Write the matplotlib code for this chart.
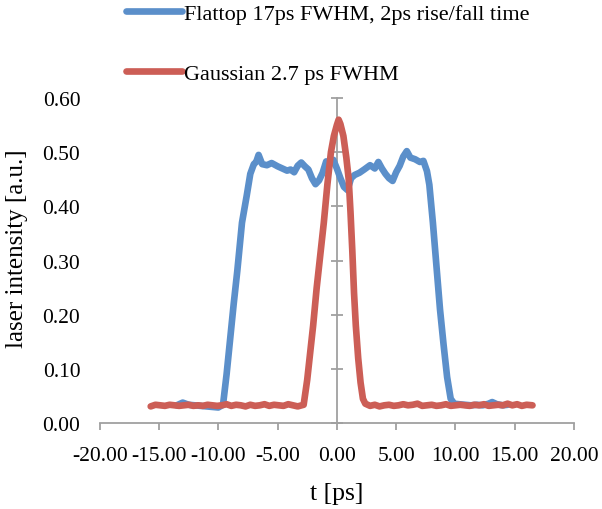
import matplotlib
matplotlib.use("Agg")
import matplotlib.pyplot as plt

# ---- data ----
flat_t = [-13.5, -13.0, -12.5, -12.0, -11.5, -11.0, -10.5, -10.0, -9.6, -9.3, -9.0, -8.7,
          -8.4, -8.0, -7.6, -7.3, -7.0, -6.8, -6.6, -6.3, -5.9, -5.5, -5.0, -4.6, -4.2,
          -3.9, -3.6, -3.3, -3.0, -2.7, -2.4, -2.1, -1.8, -1.5, -1.2, -0.9, -0.6, -0.3,
          0.0, 0.3, 0.6, 0.9, 1.2, 1.5, 1.9, 2.3, 2.8, 3.2, 3.5, 3.8, 4.1, 4.4, 4.7, 5.0,
          5.3, 5.6, 5.9, 6.2, 6.6, 7.0, 7.3, 7.6, 7.8, 8.1, 8.4, 8.7, 9.0, 9.3, 9.6, 9.9,
          10.3, 10.8, 11.3, 11.8, 12.3, 12.8, 13.1, 13.5, 14.0, 14.4]
flat_v = [0.033, 0.038, 0.034, 0.033, 0.032, 0.031, 0.030, 0.029, 0.034, 0.090, 0.155, 0.220,
          0.280, 0.370, 0.420, 0.460, 0.478, 0.482, 0.495, 0.478, 0.476, 0.480, 0.474, 0.470, 0.466,
          0.468, 0.463, 0.475, 0.481, 0.474, 0.468, 0.452, 0.441, 0.448, 0.462, 0.483, 0.478, 0.486,
          0.470, 0.452, 0.436, 0.430, 0.452, 0.458, 0.462, 0.468, 0.476, 0.470, 0.482, 0.470, 0.460,
          0.452, 0.447, 0.463, 0.475, 0.492, 0.502, 0.490, 0.487, 0.482, 0.484, 0.465, 0.440, 0.370,
          0.290, 0.210, 0.145, 0.085, 0.045, 0.036, 0.035, 0.034, 0.033, 0.034, 0.033, 0.036, 0.039,
          0.035, 0.033, 0.034]

gauss_t = [-15.7, -15.3, -14.9, -14.5, -14.1, -13.7, -13.3, -12.9, -12.5, -12.1, -11.7, -11.3,
           -10.9, -10.5, -10.1, -9.7, -9.3, -8.9, -8.5, -8.1, -7.7, -7.3, -6.9, -6.5, -6.1,
           -5.7, -5.3, -4.9, -4.5, -4.1, -3.7, -3.3, -2.8, -2.5, -2.25, -2.0, -1.7, -1.4, -1.1,
           -0.8, -0.5, -0.25, 0.0, 0.15, 0.3, 0.55, 0.8, 1.0, 1.15, 1.3, 1.45, 1.6, 1.8, 2.0,
           2.2, 2.4, 2.8, 3.2, 3.6, 4.0, 4.4, 4.8, 5.2, 5.6, 6.0, 6.4, 6.8, 7.2, 7.6, 8.0, 8.4,
           8.8, 9.2, 9.6, 10.0, 10.4, 10.8, 11.2, 11.6, 12.0, 12.4, 12.8, 13.2, 13.6, 14.0, 14.4,
           14.8, 15.2, 15.6, 16.0, 16.5]
gauss_v = [0.031, 0.034, 0.033, 0.032, 0.034, 0.033, 0.032, 0.033, 0.034, 0.032, 0.033, 0.032,
           0.034, 0.033, 0.032, 0.033, 0.035, 0.032, 0.034, 0.033, 0.031, 0.034, 0.032, 0.033, 0.035,
           0.032, 0.034, 0.033, 0.032, 0.035, 0.033, 0.031, 0.034, 0.080, 0.130, 0.180, 0.250, 0.310, 0.370,
           0.440, 0.500, 0.530, 0.550, 0.560, 0.552, 0.530, 0.490, 0.450, 0.390, 0.320, 0.240, 0.180, 0.120, 0.075,
           0.045, 0.036, 0.032, 0.034, 0.031, 0.033, 0.034, 0.032, 0.033, 0.035, 0.033, 0.034, 0.036, 0.032, 0.033, 0.034, 0.032,
           0.033, 0.035, 0.032, 0.033, 0.034, 0.033, 0.032, 0.034, 0.033, 0.035, 0.032, 0.033, 0.034, 0.033, 0.036,
           0.033, 0.035, 0.032, 0.034, 0.033]

labels = ["Flattop 17ps FWHM, 2ps rise/fall time", "Gaussian 2.7 ps FWHM"]
xticks = [-20, -15, -10, -5, 0, 5, 10, 15, 20]
yticks = [0.0, 0.1, 0.2, 0.3, 0.4, 0.5, 0.6]

BLUE = "#5B8FCA"
RED = "#CC5E56"
GRAY = "#A0A0A0"
SERIF = ["Liberation Serif", "DejaVu Serif"]

fig = plt.figure(figsize=(6.02, 5.10), dpi=100)
ax = fig.add_axes([99.7/602, 85.8/510, (574-99.7)/602, (424.2-99)/510])

l1, = ax.plot(flat_t, flat_v, color=BLUE, lw=4.8, solid_capstyle="round", solid_joinstyle="round")
l2, = ax.plot(gauss_t, gauss_v, color=RED, lw=4.8, solid_capstyle="round", solid_joinstyle="round")

ax.set_xlim(-20, 20)
ax.set_ylim(0, 0.6)
ax.set_xticks(xticks)
ax.set_xticklabels([f"{v:.2f}" for v in xticks], fontfamily=SERIF, fontsize=15.5)
ax.set_yticks(yticks)
ax.set_yticklabels([f"{v:.2f}" for v in yticks], fontfamily=SERIF, fontsize=15.5)

for s in ["top", "right", "left"]:
    ax.spines[s].set_visible(False)
ax.spines["bottom"].set_color(GRAY)
ax.spines["bottom"].set_linewidth(1.3)
ax.tick_params(axis="x", direction="out", length=5, width=1.3, color=GRAY, pad=11.5)
ax.tick_params(axis="y", length=0, pad=14)

sec = ax.secondary_yaxis(0.5)
sec.set_yticks(yticks)
sec.tick_params(axis="y", direction="inout", length=9, width=1.3, color=GRAY,
                labelleft=False, labelright=False)
for sp in sec.spines.values():
    sp.set_color(GRAY)
    sp.set_linewidth(1.3)

ax.set_xlabel("t [ps]", fontfamily=SERIF, fontsize=18.5, labelpad=12)
ax.set_ylabel("laser intensity [a.u.]", fontfamily=SERIF, fontsize=18)
ax.yaxis.set_label_coords(-0.152, 0.539)

leg = fig.legend([l1, l2], labels, loc="upper left", bbox_to_anchor=(106/602, 1.03),
                 frameon=False, handlelength=2.5, handletextpad=0.13, labelspacing=1.75,
                 prop={"family": SERIF, "size": 16})

fig.savefig("out.png", dpi=100)
